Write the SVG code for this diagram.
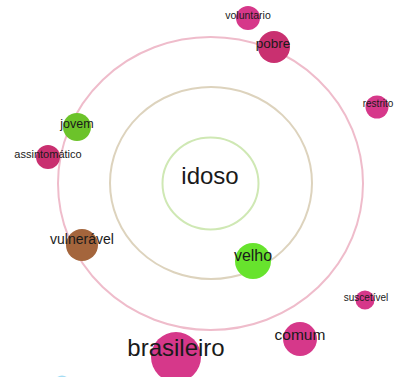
<svg xmlns="http://www.w3.org/2000/svg" width="403" height="377" viewBox="0 0 403 377">
<style>
text{font-family:"Liberation Sans",Arial,sans-serif;fill:#1a1a1a;text-anchor:middle}
.ring{fill:none;stroke-width:2}
.pink{fill:#d6388a}
.dpink{fill:#c93070}
</style>
<rect width="403" height="377" fill="#fff"/>
<g id="connectors">
<ellipse class="ring" cx="210.5" cy="183.5" rx="152.5" ry="146.5" stroke="#efbccb"/>
<ellipse class="ring" cx="211" cy="183" rx="101" ry="96" stroke="#ddd3bd"/>
<ellipse class="ring" cx="210.5" cy="183.5" rx="48" ry="46" stroke="#cfe8b4"/>
</g>
<g id="cyan"><circle cx="62" cy="383.5" r="8" fill="#8fd3f0" opacity="0.8"/></g>
<g id="voluntario"><circle class="pink" cx="248" cy="18" r="12"/><text x="248" y="18.5" font-size="10.5">voluntario</text></g>
<g id="pobre"><circle class="dpink" cx="274" cy="47" r="16"/><text x="273" y="47.5" font-size="13.5">pobre</text></g>
<g id="restrito"><circle class="pink" cx="377" cy="107" r="11.5"/><text x="378" y="106.5" font-size="10">restrito</text></g>
<g id="jovem"><circle cx="77" cy="127" r="14" fill="#6cc32a"/><text x="77" y="128" font-size="12.5">jovem</text></g>
<g id="assintomatico"><circle class="dpink" cx="48" cy="157" r="12"/><text x="48" y="157.5" font-size="11">assintomático</text></g>
<g id="idoso"><text x="210" y="184" font-size="24">idoso</text></g>
<g id="vulneravel"><circle cx="82" cy="245" r="16" fill="#a4653c"/><text x="82" y="243.5" font-size="14">vulnerável</text></g>
<g id="velho"><circle cx="253" cy="261" r="18" fill="#67e32d"/><text x="253" y="261" font-size="16">velho</text></g>
<g id="suscetivel"><circle class="pink" cx="365" cy="300" r="9.5"/><text x="366" y="300.5" font-size="10">suscetível</text></g>
<g id="comum"><circle class="pink" cx="300" cy="339" r="17"/><text x="300" y="340" font-size="15.5">comum</text></g>
<g id="brasileiro"><circle class="pink" cx="176" cy="357" r="25"/><text x="176" y="356" font-size="24">brasileiro</text></g>
</svg>
